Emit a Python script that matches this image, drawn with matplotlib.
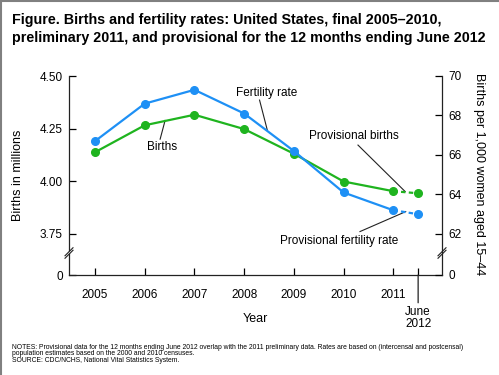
import matplotlib
matplotlib.use("Agg")
import matplotlib.pyplot as plt
from matplotlib.lines import Line2D

plt.rcParams['font.family'] = ['Liberation Sans', 'DejaVu Sans']

# data
years = [2005, 2006, 2007, 2008, 2009, 2010, 2011]
births = [4.138, 4.266, 4.316, 4.248, 4.131, 3.999, 3.953]
fertility = [66.7, 68.6, 69.3, 68.1, 66.2, 64.1, 63.2]
prov_x = 2011.5
prov_births = 3.943
prov_fertility = 63.0
year_labels = ['2005', '2006', '2007', '2008', '2009', '2010', '2011']
left_ticks = [3.75, 4.00, 4.25, 4.50]
right_ticks = [62, 64, 66, 68, 70]

BLUE = '#1e90f5'
GREEN = '#1fb41f'
W, H = 499, 375

fig = plt.figure(figsize=(W / 100, H / 100), dpi=100, facecolor='white')
ax = fig.add_axes([69 / W, 1 - 275 / H, (442 - 69) / W, (275 - 76) / H])
ax2 = ax.twinx()

# axis ranges (bottom of each axis is the broken "0")
ax.set_xlim(2004.477, 2011.98)
ax.set_ylim(3.555, 4.5)
ax2.set_ylim(59.92, 70)

# lines
ax.plot(years, births, color=GREEN, lw=1.6, marker='o', ms=5.5, zorder=3)
ax.plot([years[-1], prov_x], [births[-1], prov_births], color=GREEN, lw=1.6,
        ls=(0, (2, 1.5)), zorder=3)
ax.plot([prov_x], [prov_births], color=GREEN, marker='o', ms=5.5, zorder=3)
ax2.plot(years, fertility, color=BLUE, lw=1.6, marker='o', ms=5.5, zorder=3)
ax2.plot([years[-1], prov_x], [fertility[-1], prov_fertility], color=BLUE, lw=1.6,
         ls=(0, (2, 1.5)), zorder=3)
ax2.plot([prov_x], [prov_fertility], color=BLUE, marker='o', ms=5.5, zorder=3)

# spines and ticks
for a in (ax, ax2):
    a.spines['top'].set_visible(False)
    for s in a.spines.values():
        s.set_linewidth(0.9)
        s.set_color('#222222')
ax.spines['right'].set_visible(False)
ax2.spines['left'].set_visible(False)
ax2.spines['bottom'].set_visible(False)

ax.set_xticks(years + [prov_x])
ax.set_xticklabels(year_labels + [''])
ax.set_yticks([3.555] + left_ticks)
ax.set_yticklabels(['0'] + ['%.2f' % t for t in left_ticks])
ax2.set_yticks([59.92] + right_ticks)
ax2.set_yticklabels(['0'] + [str(t) for t in right_ticks])
ax.tick_params(axis='x', direction='in', length=5, width=0.9, pad=10, labelsize=8.5)
ax.tick_params(axis='y', direction='in', length=5, width=0.9, pad=4.5, labelsize=8.5)
ax2.tick_params(axis='y', direction='in', length=5, width=0.9, pad=4.5, labelsize=8.5)

# June 2012 long tick and label
ax.annotate('', xy=(prov_x, 0), xycoords=('data', 'axes fraction'),
            xytext=(0, -20), textcoords='offset points',
            arrowprops=dict(arrowstyle='-', lw=0.9, color='#222222',
                            shrinkA=0, shrinkB=0))
ax.annotate('June\n2012', xy=(prov_x, 0), xycoords=('data', 'axes fraction'),
            xytext=(0, -22), textcoords='offset points', ha='center', va='top',
            fontsize=8.5, linespacing=1.0)

ax.set_xlabel('Year', fontsize=9, labelpad=9)

# axis breaks
def axis_break(xfrac):
    yb = (275 - 253) / 199
    dx, dy, gap = 4 / 373, 4 / 199, 2.5 / 199
    trans = ax.transAxes
    ax.add_patch(plt.Polygon([(xfrac - dx, yb - dy - gap / 2), (xfrac + dx, yb + dy - gap / 2),
                              (xfrac + dx, yb + dy + gap / 2), (xfrac - dx, yb - dy + gap / 2)],
                             closed=True, transform=trans, facecolor='white',
                             edgecolor='none', clip_on=False, zorder=5))
    for off in (-gap / 2, gap / 2):
        ax.add_line(Line2D([xfrac - dx, xfrac + dx], [yb - dy + off, yb + dy + off],
                           transform=trans, color='#222222', lw=0.8,
                           clip_on=False, zorder=6))

axis_break(0.0)
axis_break(1.0)

# line labels with leader lines
ax2.text(2008.45, 69.15, 'Fertility rate', fontsize=8.5, ha='center', va='center')
ax2.plot([2008.31, 2008.47], [68.78, 67.22], color='#222222', lw=0.8)
ax.text(2006.34, 4.162, 'Births', fontsize=8.5, ha='center', va='center')
ax.plot([2006.31, 2006.41], [4.200, 4.289], color='#222222', lw=0.8)
ax2.text(2010.21, 66.96, 'Provisional births', fontsize=8.5, ha='center', va='center')
ax.plot([2010.29, 2011.24], [4.172, 3.951], color='#222222', lw=0.8)
ax2.text(2009.91, 61.65, 'Provisional fertility rate', fontsize=8.5, ha='center', va='center')
ax2.plot([2010.33, 2011.25], [62.12, 63.13], color='#222222', lw=0.8)

# axis titles
fig.text(18 / W, 1 - 175 / H, 'Births in millions', rotation=90,
         ha='center', va='center', fontsize=9)
fig.text(479 / W, 1 - 174 / H, 'Births per 1,000 women aged 15\u201344', rotation=270,
         ha='center', va='center', fontsize=9)

# title
fig.text(12 / W, 1 - 24 / H,
         'Figure. Births and fertility rates: United States, final 2005\u20132010,',
         fontsize=10.3, fontweight='bold', ha='left', va='baseline')
fig.text(12 / W, 1 - 42 / H,
         'preliminary 2011, and provisional for the 12 months ending June 2012',
         fontsize=10.3, fontweight='bold', ha='left', va='baseline')

# notes
notes = [
    'NOTES: Provisional data for the 12 months ending June 2012 overlap with the 2011 preliminary data. '
    'Rates are based on (intercensal and postcensal)',
    'population estimates based on the 2000 and 2010 censuses.',
    'SOURCE: CDC/NCHS, National Vital Statistics System.',
]
for i, line in enumerate(notes):
    fig.text(12 / W, 1 - (349 + 6.3 * i) / H, line, fontsize=4.85,
             ha='left', va='baseline')

# frame lines (left and top)
fig.add_artist(Line2D([1 / W, 1 / W], [0, 1], transform=fig.transFigure,
                      color='#808080', lw=1.5))
fig.add_artist(Line2D([0, 1], [1 - 1 / H, 1 - 1 / H], transform=fig.transFigure,
                      color='#808080', lw=1.5))

fig.savefig('out.png', dpi=100, facecolor='white')
